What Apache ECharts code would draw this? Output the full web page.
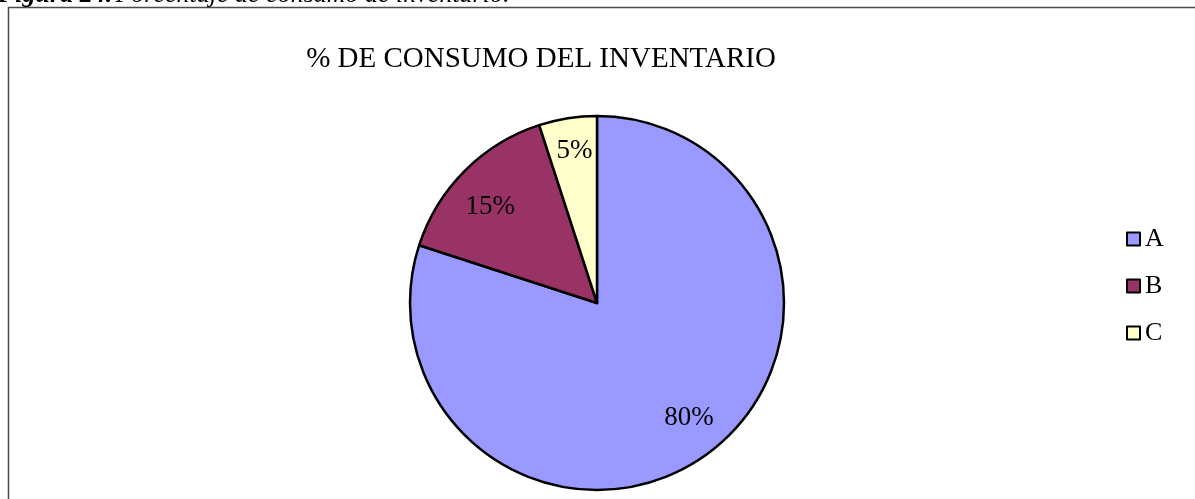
<!DOCTYPE html>
<html>
<head>
<meta charset="utf-8">
<script src="https://cdn.jsdelivr.net/npm/echarts@6/dist/echarts.min.js"></script>
<style>
  html, body { margin: 0; padding: 0; background: #fff; }
  #chart { width: 1195px; height: 499px; }
</style>
</head>
<body>
<div id="chart"></div>
<script>
// Inventory consumption share by ABC class
const categories = ['A', 'B', 'C'];
const shares = [80, 15, 5];
const colors = ['#9999FF', '#993366', '#FFFFCC'];

// small nudges so each percentage sits where the slice label belongs
const labelNudges = [[4, -6], [-1, 10], [1, -4]];

const serif = '"Liberation Serif", "Times New Roman", serif';
const pieData = categories.map((name, i) => ({
  name: name,
  value: shares[i],
  itemStyle: { color: colors[i] }
}));

const chart = echarts.init(document.getElementById('chart'), null, { renderer: 'canvas' });
chart.setOption({
  animation: false,
  backgroundColor: '#ffffff',
  title: {
    text: '% DE CONSUMO DEL INVENTARIO',
    left: 536,
    textAlign: 'center',
    top: 40,
    textStyle: { fontFamily: serif, fontSize: 29, fontWeight: 'normal', color: '#000' }
  },
  legend: {
    orient: 'vertical',
    left: 1121,
    top: 221,
    itemWidth: 13,
    itemHeight: 13,
    itemGap: 21,
    icon: 'rect',
    itemStyle: { borderColor: '#000', borderWidth: 2 },
    textStyle: { fontFamily: serif, fontSize: 26, color: '#000' },
    data: categories
  },
  graphic: [
    {
      type: 'rect',
      silent: true,
      shape: { x: 8.5, y: 7.5, width: 1300, height: 600 },
      style: { fill: null, stroke: '#4a4a4a', lineWidth: 1.5 }
    },
    {
      type: 'text',
      silent: true,
      x: -2,
      y: 8,
      style: {
        text: '{b|Figura 24.} {i|Porcentaje de consumo de inventario.}',
        textVerticalAlign: 'bottom',
        rich: {
          b: { fontFamily: serif, fontSize: 26, fontWeight: 'bold', fontStyle: 'italic', fill: '#000' },
          i: { fontFamily: serif, fontSize: 26, fontStyle: 'italic', fill: '#000' }
        }
      }
    }
  ],
  series: [
    {
      type: 'pie',
      center: [597, 303],
      radius: 187,
      startAngle: 90,
      clockwise: true,
      silent: true,
      label: { show: false },
      labelLine: { show: false },
      itemStyle: { borderColor: '#000', borderWidth: 2.5 },
      data: pieData
    },
    {
      // transparent ring that carries the percentage labels at ~3/4 radius
      type: 'pie',
      center: [597, 303],
      radius: [106, 187],
      startAngle: 90,
      clockwise: true,
      silent: true,
      legendHoverLink: false,
      itemStyle: { color: 'rgba(0,0,0,0)', borderWidth: 0 },
      label: {
        show: true,
        position: 'inside',
        formatter: '{c}%',
        fontFamily: serif,
        fontSize: 27,
        color: '#000'
      },
      labelLine: { show: false },
      data: categories.map((name, i) => ({
        name: name + ' ',
        value: shares[i],
        label: { offset: labelNudges[i] }
      }))
    }
  ]
});
</script>
</body>
</html>
